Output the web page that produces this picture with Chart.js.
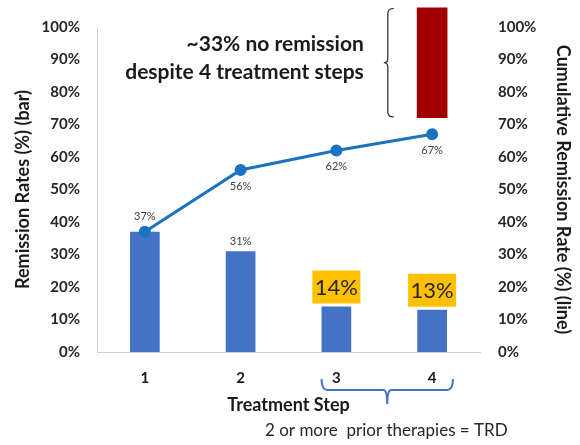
<!DOCTYPE html>
<html><head><meta charset="utf-8">
<script src="https://cdn.jsdelivr.net/npm/chart.js@4/dist/chart.umd.min.js"></script>
<style>html,body{margin:0;padding:0;background:#fff}canvas{display:block}</style>
</head><body>
<canvas id="c" width="580" height="445"></canvas>
<script>
const categories = ['1', '2', '3', '4'];
const remissionRates = [37, 31, 14, 13];          // bars (%)
const cumulativeRates = [37, 56, 62, 67];         // line (%)
const noRemissionBar = [null, null, null, [72, 106]]; // highlighted remainder
const barLabelShown = [false, true, true, true];
const barLabelBoxed = [false, false, true, true];
const annotationLines = ['~33% no remission', 'despite 4 treatment steps'];
const footnote = '2 or more  prior therapies = TRD';
const axisTitleLeft = 'Remission Rates (%) (bar)';
const axisTitleRight = 'Cumulative Remission Rate (%) (line)';
const axisTitleX = 'Treatment Step';

const FONT = 'Lato, "Open Sans", sans-serif';

const overlay = {
  id: 'overlay',
  afterDatasetsDraw(chart) {
    const ctx = chart.ctx;
    const lineMeta = chart.getDatasetMeta(1);
    const barMeta = chart.getDatasetMeta(0);
    const redMeta = chart.getDatasetMeta(2);
    ctx.save();
    // line labels
    ctx.font = '11px ' + FONT;
    ctx.fillStyle = '#404040';
    ctx.textAlign = 'center';
    ctx.textBaseline = 'middle';
    lineMeta.data.forEach((p, i) => {
      const dy = i === 0 ? -15 : 16;
      ctx.fillText(cumulativeRates[i] + '%', p.x, p.y + dy);
    });
    // bar labels
    barMeta.data.forEach((b, i) => {
      if (!barLabelShown[i]) return;
      const txt = remissionRates[i] + '%';
      if (barLabelBoxed[i]) {
        const w = 48, h = 33;
        const bottom = b.y - 3;
        ctx.fillStyle = '#FFC000';
        ctx.fillRect(b.x - w / 2, bottom - h, w, h);
        ctx.fillStyle = '#262626';
        ctx.font = '22px ' + FONT;
        ctx.fillText(txt, b.x, bottom - h / 2 + 1);
      } else {
        ctx.fillStyle = '#404040';
        ctx.font = '11px ' + FONT;
        ctx.fillText(txt, b.x, b.y - 10);
      }
    });
    // red bar bracket + annotation
    const rb = redMeta.data[3];
    if (rb) {
      const left = rb.x - rb.width / 2;
      const top = rb.y, bot = rb.base;
      const bx = left - 29;
      const mid = (top + bot) / 2;
      ctx.strokeStyle = '#222';
      ctx.lineWidth = 1.2;
      ctx.beginPath();
      ctx.moveTo(bx + 6, top + 1);
      ctx.quadraticCurveTo(bx, top + 1, bx, top + 6);
      ctx.lineTo(bx, mid - 4);
      ctx.quadraticCurveTo(bx, mid, bx - 4, mid);
      ctx.quadraticCurveTo(bx, mid, bx, mid + 4);
      ctx.lineTo(bx, bot - 6);
      ctx.quadraticCurveTo(bx, bot - 1, bx + 6, bot - 1);
      ctx.stroke();
      ctx.fillStyle = '#1a1a1a';
      ctx.font = 'bold 21px ' + FONT;
      ctx.textAlign = 'right';
      ctx.fillText(annotationLines[0], left - 53, 44);
      ctx.fillText(annotationLines[1], left - 53, 72);
    }
    // bottom brace under steps 3-4
    const b3 = barMeta.data[2], b4 = barMeta.data[3];
    const x0 = b3.x - b3.width / 2, x1 = b4.x + b4.width / 2 + 6;
    const yTop = chart.chartArea.bottom + 27, yb = yTop + 11, yTip = yTop + 25;
    const xm = (x0 + x1) / 2;
    ctx.strokeStyle = '#4472C4';
    ctx.lineWidth = 2;
    ctx.beginPath();
    ctx.moveTo(x0, yTop);
    ctx.quadraticCurveTo(x0, yb, x0 + 6, yb);
    ctx.lineTo(xm - 4, yb);
    ctx.quadraticCurveTo(xm, yb, xm, yTip);
    ctx.quadraticCurveTo(xm, yb, xm + 4, yb);
    ctx.lineTo(x1 - 6, yb);
    ctx.quadraticCurveTo(x1, yb, x1, yTop);
    ctx.stroke();
    // footnote
    ctx.fillStyle = '#262626';
    ctx.font = '17px ' + FONT;
    ctx.textAlign = 'left';
    ctx.fillText(footnote, 265, 431);
    ctx.restore();
  }
};

const pct = v => v + '%';
new Chart(document.getElementById('c'), {
  data: {
    labels: categories,
    datasets: [
      { type: 'bar', data: remissionRates, backgroundColor: '#4472C4', grouped: false,
        barPercentage: 0.31, categoryPercentage: 1, yAxisID: 'y', order: 2 },
      { type: 'line', data: cumulativeRates, borderColor: '#1a72c0', backgroundColor: '#1a72c0',
        borderWidth: 3, pointRadius: 4.5, pointHoverRadius: 4.5, tension: 0, yAxisID: 'y1', order: 1 },
      { type: 'bar', data: noRemissionBar, backgroundColor: '#A00000', grouped: false,
        barPercentage: 0.32, categoryPercentage: 1, yAxisID: 'y', clip: false, order: 3 }
    ]
  },
  options: {
    responsive: false, animation: false, devicePixelRatio: 1,
    layout: { padding: { left: 2, right: 2, top: 18, bottom: 0 } },
    plugins: { legend: { display: false }, tooltip: { enabled: false } },
    scales: {
      x: {
        offset: true,
        grid: { display: false, drawTicks: false },
        border: { color: '#d0d0d0' },
        ticks: { font: { family: FONT, size: 15, weight: 'bold' }, color: '#1a1a1a', padding: 17 },
        title: { display: true, text: axisTitleX, font: { family: FONT, size: 18, weight: 'bold' }, color: '#1a1a1a', padding: { top: 0, bottom: 29 } },
        afterFit(s) { s.height = 93; }
      },
      y: {
        min: 0, max: 100, position: 'left',
        grid: { display: false, drawTicks: false },
        border: { color: '#d0d0d0' },
        ticks: { stepSize: 10, callback: pct, font: { family: FONT, size: 15, weight: 'bold' }, color: '#262626', padding: 17 },
        title: { display: true, text: axisTitleLeft, font: { family: FONT, size: 18, weight: 'bold' }, color: '#1a1a1a', padding: { top: 10, bottom: 0 } },
        afterFit(s) { s.width = 95; }
      },
      y1: {
        min: 0, max: 100, position: 'right',
        grid: { display: false, drawTicks: false },
        border: { display: false },
        ticks: { stepSize: 10, callback: pct, font: { family: FONT, size: 15, weight: 'bold' }, color: '#262626', padding: 18 },
        title: { display: true, text: axisTitleRight, font: { family: FONT, size: 18, weight: 'bold' }, color: '#1a1a1a', padding: { top: 4, bottom: 0 } },
        afterFit(s) { s.width = 98; }
      }
    }
  },
  plugins: [overlay]
});
</script>
</body></html>
